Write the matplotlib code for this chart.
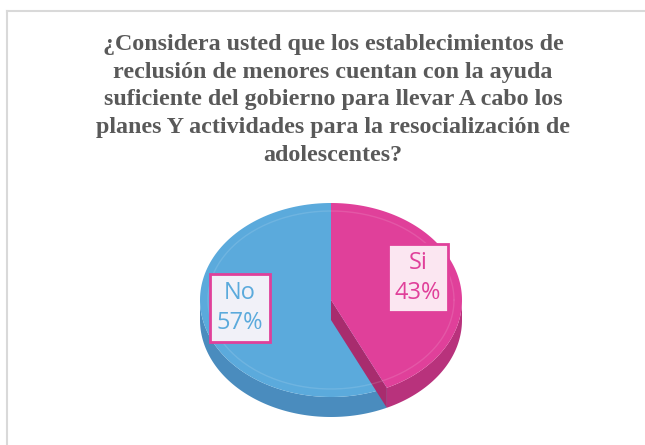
import numpy as np
import matplotlib.pyplot as plt
from matplotlib.patches import Polygon

title = ("¿Considera usted que los establecimientos de\n"
         "reclusión de menores cuentan con la ayuda\n"
         "suficiente del gobierno para llevar A cabo los\n"
         "planes Y actividades para la resocialización de\n"
         "adolescentes?")
labels = ["Si", "No"]
values = [43, 57]
top_colors = ["#E0409A", "#5BAADC"]
side_colors = ["#B8327C", "#4A8CBE"]
text_colors = ["#E0409A", "#5BAADC"]
box_fill = ["#FBE6F1", "#F1F1F8"]

# pie geometry in pixel coordinates (y grows downwards)
cx, cy = 331, 300
rx, ry = 131, 97
depth = 20


def pt(t, dy=0):
    return cx + rx * np.cos(t), cy - ry * np.sin(t) + dy


def arc(a, b, dy=0, n=120):
    ts = np.linspace(a, b, n)
    return [pt(t, dy) for t in ts]


fig = plt.figure(figsize=(6.45, 4.45), dpi=100)
ax = fig.add_axes([0, 0, 1, 1])
ax.set_xlim(0, 645)
ax.set_ylim(445, 0)
ax.axis("off")

# light frame
ax.plot([7, 645], [11, 11], color="#D9D9D9", lw=1.5)
ax.plot([7, 7], [11, 445], color="#D9D9D9", lw=1.5)

ax.text(333, 100, title, ha="center", va="center", fontsize=17.3,
        fontweight="bold", family="Liberation Serif", color="#595959",
        linespacing=1.41)

# slice angles, clockwise from 12 o'clock
total = sum(values)
start = np.pi / 2
angles = []
for v in values:
    end = start - 2 * np.pi * v / total
    angles.append((start, end))
    start = end

(si_a, si_b), (no_a, no_b) = angles

# blue (No) side wall: visible front part
front = arc(si_b, -np.pi)
ax.add_patch(Polygon(front + arc(-np.pi, si_b, depth), closed=True,
                     fc=side_colors[1], ec="none"))
# blue top
ax.add_patch(Polygon([(cx, cy)] + arc(no_a, no_b), closed=True,
                     fc=top_colors[1], ec="none"))

# pink cut face
p0 = pt(si_b)
p1 = pt(si_b, depth)
ax.add_patch(Polygon([(cx, cy), (cx, cy + depth), p1, p0], closed=True,
                     fc="#A82C6E", ec="none"))
# pink side wall
ax.add_patch(Polygon(arc(si_b, 0) + arc(0, si_b, depth), closed=True,
                     fc=side_colors[0], ec="none"))
# pink top
ax.add_patch(Polygon([(cx, cy)] + arc(si_a, si_b), closed=True,
                     fc=top_colors[0], ec="none"))

# subtle inner rim
ts = np.linspace(0, 2 * np.pi, 200)
ax.plot(cx + (rx - 8) * np.cos(ts), cy - (ry - 8) * np.sin(ts),
        color="white", alpha=0.12, lw=1)

# data labels
label_pos = [(418, 278), (240, 308)]
for i in range(len(labels)):
    x, y = label_pos[i]
    ax.text(x, y, f"{labels[i]}\n{values[i]}%", ha="center", va="center",
            fontsize=17, family="Open Sans", color=text_colors[i],
            linespacing=1.35,
            bbox=dict(boxstyle="square,pad=0.3", fc=box_fill[i],
                      ec="#E0409A", lw=2))

fig.savefig("out.png", dpi=100)
